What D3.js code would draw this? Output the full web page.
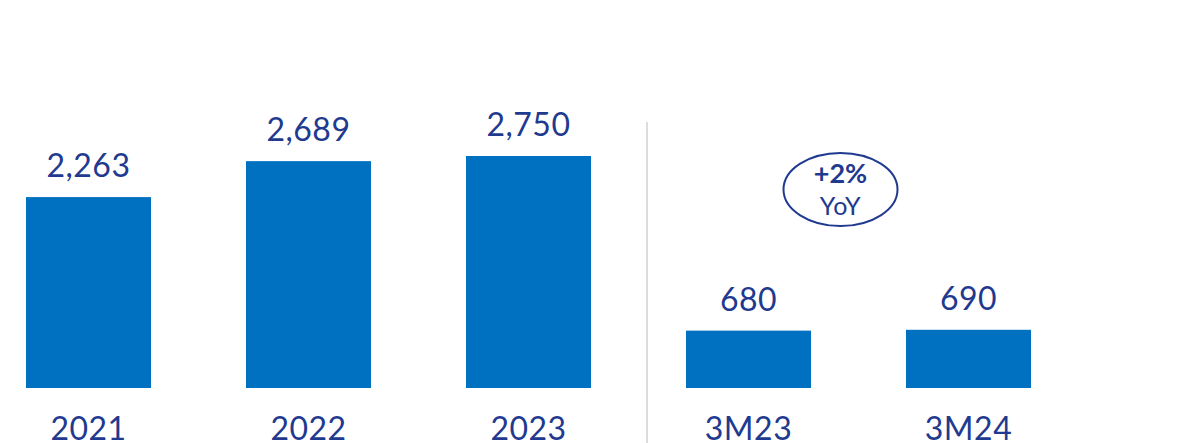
<!DOCTYPE html>
<html>
<head>
<meta charset="utf-8">
<script src="https://cdn.jsdelivr.net/npm/d3@7"></script>
<style>
  html, body { margin: 0; padding: 0; background: #ffffff; }
  svg { display: block; }
</style>
</head>
<body>
<svg id="chart" width="1185" height="443"></svg>
<script>
// Annual and quarter-to-date totals
const categories = ["2021", "2022", "2023", "3M23", "3M24"];
const values = [2263, 2689, 2750, 680, 690];
const valueLabels = ["2,263", "2,689", "2,750", "680", "690"];
const growthLabel = ["+2%", "YoY"];

const W = 1185, H = 443;
const barColor = "#0070c0";
const textColor = "#1f3a8f";
const font = "Lato, 'Noto Sans', sans-serif";

const svg = d3.select("#chart");

const pad = 95 / 220;
const x = d3.scaleBand()
  .domain(categories)
  .range([-21.5, 1078.5])
  .paddingInner(pad)
  .paddingOuter(pad / 2);

const baseline = 388;
const y = d3.scaleLinear()
  .domain([0, 2750])
  .range([baseline, 156]);

// bars
svg.append("g")
  .selectAll("rect")
  .data(categories)
  .join("rect")
  .attr("x", d => x(d))
  .attr("y", (d, i) => y(values[i]))
  .attr("width", x.bandwidth())
  .attr("height", (d, i) => baseline - y(values[i]))
  .attr("fill", barColor);

// value labels above bars
svg.append("g")
  .selectAll("text")
  .data(categories)
  .join("text")
  .attr("x", d => x(d) + x.bandwidth() / 2)
  .attr("y", (d, i) => y(values[i]) - 20)
  .attr("text-anchor", "middle")
  .attr("font-family", font)
  .attr("font-size", 32)
  .attr("letter-spacing", 0.5)
  .attr("fill", textColor)
  .text((d, i) => valueLabels[i]);

// category axis labels
const axis = d3.axisBottom(x).tickSize(0).tickPadding(0);
const gAxis = svg.append("g")
  .attr("transform", `translate(0,${baseline})`)
  .call(axis);
gAxis.select(".domain").remove();
gAxis.selectAll("text")
  .attr("y", 52)
  .attr("dy", null)
  .attr("font-family", font)
  .attr("font-size", 32)
  .attr("letter-spacing", 0.5)
  .attr("fill", textColor);

// divider between annual and quarterly groups
const divX = x("3M23") - 39;
svg.append("line")
  .attr("x1", divX).attr("x2", divX)
  .attr("y1", 122).attr("y2", H)
  .attr("stroke", "#dcdcdc")
  .attr("stroke-width", 2);

// YoY growth badge above the quarterly bars
const cx = x("3M24") - 65.5;
const badge = svg.append("g");
badge.append("ellipse")
  .attr("cx", cx).attr("cy", 189.5)
  .attr("rx", 57).attr("ry", 36.5)
  .attr("fill", "none")
  .attr("stroke", textColor)
  .attr("stroke-width", 2);
badge.append("text")
  .attr("x", cx).attr("y", 183)
  .attr("text-anchor", "middle")
  .attr("font-family", font)
  .attr("font-weight", 700)
  .attr("font-size", 27)
  .attr("fill", textColor)
  .text(growthLabel[0]);
badge.append("text")
  .attr("x", cx).attr("y", 215)
  .attr("text-anchor", "middle")
  .attr("font-family", font)
  .attr("font-size", 25)
  .attr("letter-spacing", 0.5)
  .attr("fill", textColor)
  .text(growthLabel[1]);
</script>
</body>
</html>
